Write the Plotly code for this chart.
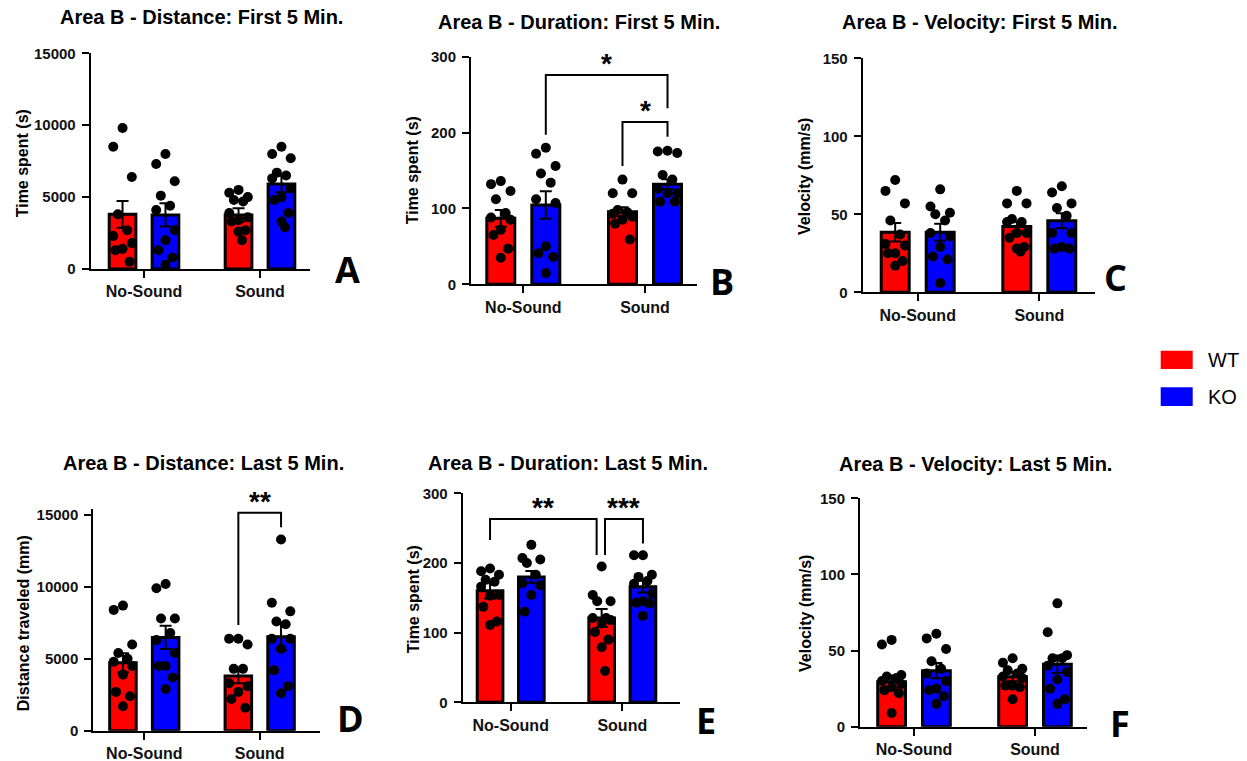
import plotly.graph_objects as go

# ---------------- data ----------------
categories = ["No-Sound", "Sound"]
genotypes = ["WT", "KO"]

# A - Distance first 5 min (y label "Time spent (s)")
A_WT_NoSound = [9800, 8500, 6400, 3800, 2700, 2300, 1800, 1400, 1300, 500]
A_KO_NoSound = [8000, 7300, 6100, 5100, 4400, 4100, 2700, 2000, 1300, 800, 300]
A_WT_Sound = [5500, 5300, 5000, 4800, 4700, 3900, 3600, 3400, 3300, 2700, 2600, 2000]
A_KO_Sound = [8500, 8000, 7700, 6700, 6500, 6300, 5600, 5000, 4800, 3900, 3300, 2900]
A_mean_WT = [3800, 3760]
A_mean_KO = [3760, 5910]
A_sem_WT = [930, 470]
A_sem_KO = [810, 580]

# B - Duration first 5 min
B_WT_NoSound = [136, 132, 123, 112, 94, 88, 85, 72, 65, 47, 35]
B_KO_NoSound = [180, 172, 156, 146, 134, 112, 107, 50, 41, 36, 15]
B_WT_Sound = [138, 120, 120, 98, 95, 93, 89, 85, 80, 59]
B_KO_Sound = [176, 175, 173, 144, 138, 126, 120, 120, 109, 109]
B_mean_WT = [87, 95.7]
B_mean_KO = [104.5, 132]
B_sem_WT = [11, 6]
B_sem_KO = [18, 6.5]

# C - Velocity first 5 min
C_WT_NoSound = [72, 65, 57, 46, 37, 31, 30, 25, 25, 20, 17]
C_KO_NoSound = [66, 55, 51, 50, 46, 38, 36, 29, 23, 21, 6]
C_WT_Sound = [65, 57, 57, 47, 45, 45, 38, 38, 35, 29, 28, 26]
C_KO_Sound = [68, 64, 57, 54, 49, 38, 38, 29, 28, 28]
C_mean_WT = [38.5, 42.1]
C_mean_KO = [38.5, 45.9]
C_sem_WT = [6, 3.2]
C_sem_KO = [5.5, 4.8]

# D - Distance last 5 min
D_WT_NoSound = [8700, 8400, 6000, 5400, 5000, 4800, 4500, 3900, 2700, 2400, 1700]
D_KO_NoSound = [10200, 9900, 7800, 7800, 6800, 6300, 5400, 4500, 4500, 3700, 2900]
D_WT_Sound = [6400, 6400, 6000, 4300, 4300, 3300, 3100, 2700, 2200, 1600]
D_KO_Sound = [13300, 8900, 8300, 7600, 7400, 6400, 6400, 5700, 4200, 3100, 2600]
D_mean_WT = [4730, 3800]
D_mean_KO = [6490, 6540]
D_sem_WT = [660, 500]
D_sem_KO = [810, 950]

# E - Duration last 5 min
E_WT_NoSound = [192, 188, 183, 176, 173, 166, 154, 153, 137, 116, 111]
E_KO_NoSound = [226, 207, 205, 200, 183, 171, 168, 154, 130]
E_WT_Sound = [195, 154, 145, 145, 121, 121, 118, 113, 101, 90, 79, 45]
E_KO_Sound = [211, 211, 183, 180, 174, 170, 156, 145, 143, 142, 124]
E_mean_WT = [160, 121]
E_mean_KO = [180, 166]
E_sem_WT = [11, 13]
E_sem_KO = [8.5, 8.5]

# F - Velocity last 5 min
F_WT_NoSound = [57, 54, 34, 33, 32, 30, 28, 26, 24, 22, 9]
F_KO_NoSound = [61, 58, 51, 43, 38, 35, 30, 25, 24, 20, 15]
F_WT_Sound = [45, 42, 38, 37, 35, 33, 32, 27, 27, 26, 18]
F_KO_Sound = [81, 62, 47, 45, 45, 40, 36, 31, 25, 18, 15]
F_mean_WT = [29.6, 32.8]
F_mean_KO = [36.8, 41]
F_sem_WT = [4, 3]
F_sem_KO = [5, 5.7]

# significance brackets: (genotype, category) start, end, top y, left-leg end, right-leg end, label
B_brackets = [(("KO", 0), ("KO", 1), 276, 197, 232, "*"),
              (("WT", 1), ("KO", 1), 214, 156, 194.5, "*")]
D_brackets = [(("WT", 1), ("KO", 1), 15160, 7350, 14140, "**")]
E_brackets = [(("WT", 0), ("WT", 1), 263, 233, 211.5, "**"),
              (("WT", 1), ("KO", 1), 263, 211.5, 228, "***")]

# ---------------- style / layout ----------------
W, H = 1247, 761
RED, BLUE = "#FF0000", "#0000FF"
OFF, BW = 0.185, 0.23
FONT = "Liberation Sans, Arial, sans-serif"
JIT = [0.0, -0.08, 0.08, -0.04, 0.04, -0.08, 0.08, 0.0, -0.06, 0.06, 0.0, 0.03]

panels = [
    dict(key="A", title="Area B - Distance: First 5 Min.", ytitle="Time spent (s)", ymax=15000, ext=1.0,
         pts=[A_WT_NoSound, A_WT_Sound, A_KO_NoSound, A_KO_Sound], mwt=A_mean_WT, mko=A_mean_KO,
         swt=A_sem_WT, sko=A_sem_KO, br=[],
         g=dict(xl=90.7, xr=310, t0=144, t1=260, y0=269, ytop=53.3, title=(201.3, 17.5), ylab=(22.3, 163), letter=(347, 270))),
    dict(key="B", title="Area B - Duration: First 5 Min.", ytitle="Time spent (s)", ymax=300, ext=1.0,
         pts=[B_WT_NoSound, B_WT_Sound, B_KO_NoSound, B_KO_Sound], mwt=B_mean_WT, mko=B_mean_KO,
         swt=B_sem_WT, sko=B_sem_KO, br=B_brackets,
         g=dict(xl=471, xr=696.7, t0=523.3, t1=645, y0=284.3, ytop=56.7, title=(579.2, 21.7), ylab=(413.3, 170), letter=(721.7, 281.7))),
    dict(key="C", title="Area B - Velocity: First 5 Min.", ytitle="Velocity (mm/s)", ymax=150, ext=1.0,
         pts=[C_WT_NoSound, C_WT_Sound, C_KO_NoSound, C_KO_Sound], mwt=C_mean_WT, mko=C_mean_KO,
         swt=C_sem_WT, sko=C_sem_KO, br=[],
         g=dict(xl=862.7, xr=1095, t0=917.7, t1=1039.3, y0=292.3, ytop=58.3, title=(980, 22.5), ylab=(805, 177), letter=(1115.7, 277.3))),
    dict(key="D", title="Area B - Distance: Last 5 Min.", ytitle="Distance traveled (mm)", ymax=15000, ext=1.027,
         pts=[D_WT_NoSound, D_WT_Sound, D_KO_NoSound, D_KO_Sound], mwt=D_mean_WT, mko=D_mean_KO,
         swt=D_sem_WT, sko=D_sem_KO, br=D_brackets,
         g=dict(xl=93.3, xr=320, t0=144.3, t1=259.7, y0=730.7, ytop=515, title=(203.3, 463.3), ylab=(23, 623.3), letter=(350, 718.3))),
    dict(key="E", title="Area B - Duration: Last 5 Min.", ytitle="Time spent (s)", ymax=300, ext=1.0,
         pts=[E_WT_NoSound, E_WT_Sound, E_KO_NoSound, E_KO_Sound], mwt=E_mean_WT, mko=E_mean_KO,
         swt=E_sem_WT, sko=E_sem_KO, br=E_brackets,
         g=dict(xl=462.7, xr=680, t0=510.7, t1=622.3, y0=702.3, ytop=493.3, title=(568.3, 463), ylab=(413.3, 599), letter=(705.7, 720.7))),
    dict(key="F", title="Area B - Velocity: Last 5 Min.", ytitle="Velocity (mm/s)", ymax=150, ext=1.0,
         pts=[F_WT_NoSound, F_WT_Sound, F_KO_NoSound, F_KO_Sound], mwt=F_mean_WT, mko=F_mean_KO,
         swt=F_sem_WT, sko=F_sem_KO, br=[],
         g=dict(xl=860, xr=1086.7, t0=914, t1=1035, y0=726.7, ytop=498.3, title=(975, 464), ylab=(805, 614), letter=(1120, 723.3))),
]

fig = go.Figure()
layout = dict(width=W, height=H, margin=dict(l=0, r=0, t=0, b=0, pad=0, autoexpand=False),
              plot_bgcolor="white", paper_bgcolor="white", showlegend=False,
              font=dict(family=FONT, color="black"))
annotations, shapes = [], []


def gpos(gen, cat):
    return cat + (-OFF if gen == "WT" else OFF)


for i, p in enumerate(panels, start=1):
    g = p["g"]
    xa, ya = f"x{i}", f"y{i}"
    sep = g["t1"] - g["t0"]
    xr = [(g["xl"] - g["t0"]) / sep, (g["xr"] - g["t0"]) / sep]
    ppu = (g["y0"] - g["ytop"]) / p["ymax"]
    ytop_range = p["ymax"] * p["ext"]
    top_px = g["y0"] - ytop_range * ppu
    layout[f"xaxis{i}"] = dict(domain=[g["xl"] / W, g["xr"] / W], range=xr, anchor=ya, automargin=False,
                               showline=True, linecolor="black", linewidth=2, ticks="outside",
                               ticklen=7, tickwidth=2, tickcolor="black", tickvals=[0, 1],
                               ticktext=categories, showgrid=False, zeroline=False,
                               ticklabelstandoff=0,
                               tickfont=dict(family=FONT, size=16, weight=700, color="#111"))
    layout[f"yaxis{i}"] = dict(domain=[1 - g["y0"] / H, 1 - top_px / H], range=[0, ytop_range], anchor=xa,
                               automargin=False,
                               showline=True, linecolor="black", linewidth=2, ticks="outside",
                               ticklen=7, tickwidth=2, tickcolor="black", tickformat="d",
                               tickvals=[0, p["ymax"] / 3, 2 * p["ymax"] / 3, p["ymax"]],
                               showgrid=False, zeroline=False, ticklabelstandoff=3,
                               tickfont=dict(family=FONT, size=15, weight=700, color="#111"))

    for gen, means, sems, col in [("WT", p["mwt"], p["swt"], RED), ("KO", p["mko"], p["sko"], BLUE)]:
        fig.add_trace(go.Bar(x=[gpos(gen, 0), gpos(gen, 1)], y=means, width=BW,
                             marker=dict(color=col, line=dict(color="black", width=3)),
                             error_y=dict(type="data", array=sems, symmetric=True, color="black",
                                          thickness=2, width=6),
                             name=gen, xaxis=xa, yaxis=ya))
    wt_ns, wt_s, ko_ns, ko_s = p["pts"]
    for gen, cat, vals in [("WT", 0, wt_ns), ("WT", 1, wt_s), ("KO", 0, ko_ns), ("KO", 1, ko_s)]:
        xs = [gpos(gen, cat) + JIT[k % len(JIT)] for k in range(len(vals))]
        fig.add_trace(go.Scatter(x=xs, y=vals, mode="markers",
                                 marker=dict(color="black", size=10, line=dict(width=0)),
                                 xaxis=xa, yaxis=ya, cliponaxis=False, hoverinfo="y"))

    for (g0, g1, top, yl, yr, lab) in p["br"]:
        x0 = gpos(*g0)
        x1 = gpos(*g1)
        if p["key"] == "E" and g0 == ("WT", 0):
            x1 -= 0.045
        if p["key"] == "E" and g0 == ("WT", 1):
            x0 += 0.03
        shapes.append(dict(type="path", xref=xa, yref=ya,
                           path=f"M {x0},{yl} L {x0},{top} L {x1},{top} L {x1},{yr}",
                           line=dict(color="black", width=2)))
        annotations.append(dict(x=(x0 + x1) / 2, y=top, xref=xa, yref=ya, text=lab,
                                showarrow=False, yanchor="bottom", yshift=-6,
                                font=dict(family=FONT, size=28, weight=700, color="black")))

    tx, ty = g["title"]
    annotations.append(dict(x=tx / W, y=1 - ty / H, xref="paper", yref="paper", text=p["title"],
                            showarrow=False, xanchor="center", yanchor="middle",
                            font=dict(family=FONT, size=20, weight=700, color="black")))
    lx, ly = g["ylab"]
    annotations.append(dict(x=lx / W, y=1 - ly / H, xref="paper", yref="paper", text=p["ytitle"],
                            showarrow=False, xanchor="center", yanchor="middle", textangle=-90,
                            font=dict(family=FONT, size=16, weight=700, color="black")))
    kx, ky = g["letter"]
    annotations.append(dict(x=kx / W, y=1 - ky / H, xref="paper", yref="paper", text=p["key"],
                            showarrow=False, xanchor="center", yanchor="middle",
                            font=dict(family="Open Sans, sans-serif", size=36, weight=700, color="black")))

# legend (manual, to match the reference style)
for lab, col, (y0p, y1p) in [(genotypes[0], RED, (350.7, 369)), (genotypes[1], BLUE, (387.3, 406))]:
    shapes.append(dict(type="rect", xref="paper", yref="paper", x0=1160.7 / W, x1=1192.7 / W,
                       y0=1 - y1p / H, y1=1 - y0p / H, fillcolor=col, line=dict(width=0)))
    annotations.append(dict(x=1206 / W, y=1 - (y0p + y1p) / 2 / H, xref="paper", yref="paper",
                            text=lab, showarrow=False, xanchor="left", yanchor="middle",
                            font=dict(family=FONT, size=20, color="black")))

layout["annotations"] = annotations
layout["shapes"] = shapes
fig.update_layout(**layout)
fig.write_html("out.html", config={"displayModeBar": False},
               post_script="document.body.style.margin='0';document.body.style.padding='0';"
                           "document.documentElement.style.overflow='hidden';")
